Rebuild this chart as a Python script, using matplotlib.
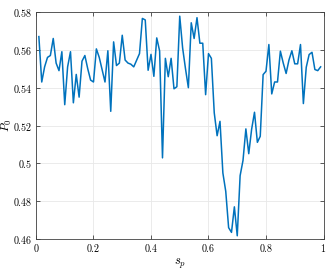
import numpy as np
import matplotlib
matplotlib.use("Agg")
import matplotlib.pyplot as plt

# sample grid and measured P0 values
s_p = np.linspace(0.01, 0.99, 99)
P0 = [
    0.567, 0.543, 0.551, 0.556, 0.557, 0.566, 0.553, 0.549, 0.559, 0.531,
    0.551, 0.559, 0.532, 0.547, 0.535, 0.554, 0.557, 0.550, 0.544, 0.543,
    0.5605, 0.556, 0.5495, 0.543, 0.5595, 0.5275, 0.5642, 0.5517, 0.553, 0.5677,
    0.5546, 0.553, 0.5524, 0.551, 0.5545, 0.558, 0.5766, 0.5758, 0.5492, 0.5576,
    0.546, 0.5663, 0.5594, 0.5029, 0.5555, 0.5458, 0.5555, 0.5394, 0.5405, 0.5778,
    0.561, 0.550, 0.540, 0.5743, 0.566, 0.577, 0.5635, 0.5635, 0.5363, 0.558,
    0.5555, 0.5267, 0.5146, 0.5222, 0.4949, 0.4852, 0.466, 0.4635, 0.477, 0.4617,
    0.4935, 0.5015, 0.5182, 0.5051, 0.518, 0.527, 0.5111, 0.5143, 0.5469, 0.5487,
    0.5628, 0.5367, 0.543, 0.543, 0.5593, 0.553, 0.5475, 0.5547, 0.5595, 0.5526,
    0.5526, 0.5628, 0.5316, 0.5508, 0.5575, 0.5587, 0.5496, 0.549, 0.551,
]

x_ticks = [0, 0.2, 0.4, 0.6, 0.8, 1]
x_labels = ["0", "0.2", "0.4", "0.6", "0.8", "1"]
y_ticks = [0.46, 0.48, 0.50, 0.52, 0.54, 0.56, 0.58]
y_labels = ["0.46", "0.48", "0.5", "0.52", "0.54", "0.56", "0.58"]

plt.rcParams["mathtext.fontset"] = "cm"

fig = plt.figure(figsize=(3.32, 2.72), dpi=100)
ax = fig.add_axes([0.1084, 0.1213, 0.8660, 0.8346])

ax.plot(s_p, P0, color="#0072BD", linewidth=1.1)

ax.set_xlim(0, 1)
ax.set_ylim(0.46, 0.58)
ax.set_xticks(x_ticks)
ax.set_xticklabels([f"${t}$" for t in x_labels], fontsize=7.2)
ax.set_yticks(y_ticks)
ax.set_yticklabels([f"${t}$" for t in y_labels], fontsize=7.2)

ax.grid(True, color="#e8e8e8", linewidth=0.6)
ax.set_axisbelow(True)
ax.tick_params(direction="in", length=3, width=0.6, color="#404040",
               top=True, right=True, pad=2.5)
for sp in ax.spines.values():
    sp.set_color("#404040")
    sp.set_linewidth(0.6)

ax.set_xlabel("$s_p$", fontsize=9, labelpad=2)
ax.set_ylabel("$P_0$", fontsize=8.5)
ax.yaxis.set_label_coords(-0.076, 0.5)

fig.savefig("out.png", dpi=100)
